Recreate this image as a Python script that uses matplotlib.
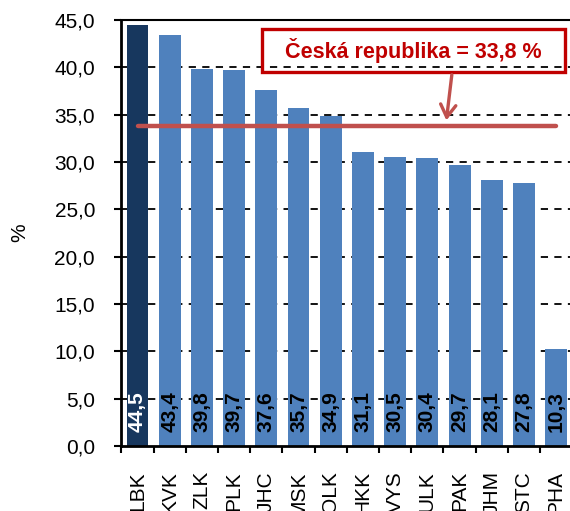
import matplotlib.pyplot as plt
from matplotlib.patches import Rectangle

plt.rcParams['font.family'] = ['Liberation Sans', 'DejaVu Sans']

regions = ["LBK", "KVK", "ZLK", "PLK", "JHC", "MSK", "OLK",
           "HKK", "VYS", "ULK", "PAK", "JHM", "STC", "PHA"]
values = [44.5, 43.4, 39.8, 39.7, 37.6, 35.7, 34.9,
          31.1, 30.5, 30.4, 29.7, 28.1, 27.8, 10.3]
cr_value = 33.8
y_ticks = [0, 5, 10, 15, 20, 25, 30, 35, 40, 45]


def fmt(v, dec=1):
    return f"{v:.{dec}f}".replace(".", ",")


fig = plt.figure(figsize=(5.7, 5.11), dpi=100)
ax = fig.add_axes([0.213, 0.127, 0.791, 0.834])

x = list(range(len(regions)))
colors = ["#17375E"] + ["#4F81BD"] * (len(regions) - 1)

ax.bar(x, values, width=0.68, color=colors, zorder=2)

# data labels inside the bars
for i, v in enumerate(values):
    ax.annotate(
        fmt(v),
        xy=(i, 0),
        xytext=(0, 10),
        textcoords="offset points",
        rotation=90,
        ha="center",
        va="bottom",
        fontsize=15,
        fontweight="bold",
        color="white" if i == 0 else "black",
        zorder=4
    )

# Czech Republic average line
ax.plot([0, len(regions) - 1], [cr_value, cr_value],
        color="#C0504D", lw=3.2, solid_capstyle="round", zorder=3)

# callout box
ax.add_patch(Rectangle((3.87, 39.5), 9.41, 4.5, fill=False,
                       edgecolor="#C00000", lw=2.4, zorder=5,
                       clip_on=False))
ax.text(8.57, 41.8, "Česká republika = " + fmt(cr_value) + " %",
        ha="center", va="center", fontsize=15.5, fontweight="bold",
        color="#C00000", zorder=6)
ax.annotate("", xy=(9.58, 34.1), xytext=(9.77, 39.5),
            arrowprops=dict(arrowstyle="->,head_length=0.9,head_width=0.55",
                            color="#C0504D", lw=2.4),
            zorder=5)

ax.set_xlim(-0.5, len(regions) - 0.5)
ax.set_ylim(0, 45)
ax.set_yticks(y_ticks)
ax.set_yticklabels([fmt(t) for t in y_ticks], fontsize=15)

ax.set_xticks([i - 0.5 for i in range(len(regions) + 1)])
ax.set_xticklabels([])
ax.set_xticks(x, minor=True)
ax.set_xticklabels(regions, minor=True, rotation=90, fontsize=15,
                   va="top")
ax.tick_params(axis="x", which="minor", length=0, pad=18)
ax.tick_params(axis="x", which="major", length=5, width=1.5)
ax.tick_params(axis="y", length=5, width=1.5, pad=14)

for t in y_ticks[1:-1]:
    ax.axhline(t, color="black", lw=1.3, ls=(0, (4, 3.5)), zorder=1)

ax.spines["left"].set_linewidth(2)
ax.spines["bottom"].set_linewidth(2)
ax.spines["top"].set_linewidth(1.5)
ax.spines["right"].set_visible(False)

ax.set_ylabel("%", fontsize=15, labelpad=18)

fig.savefig("out.png", dpi=100)
